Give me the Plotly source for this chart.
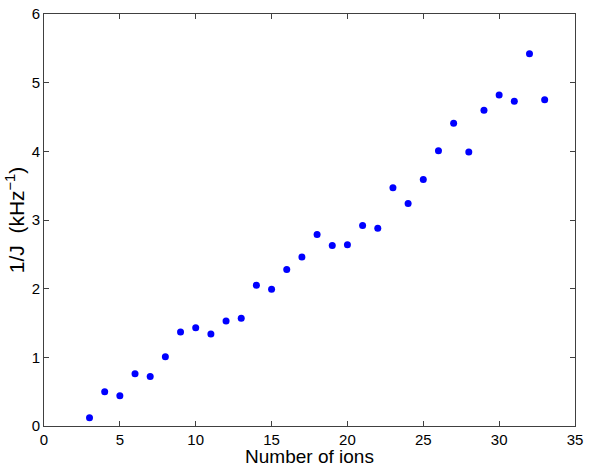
import plotly.graph_objects as go

ions = list(range(3, 34))
inv_j = [0.12, 0.50, 0.44, 0.76, 0.72, 1.01, 1.37, 1.43, 1.34, 1.53, 1.57,
         2.05, 1.99, 2.28, 2.46, 2.79, 2.63, 2.64, 2.92, 2.88, 3.47, 3.24,
         3.59, 4.01, 4.41, 3.99, 4.60, 4.82, 4.73, 5.42, 4.75]

AX = "#404040"
FONT = "Liberation Sans, Arial, sans-serif"

fig = go.Figure(go.Scatter(
    x=ions, y=inv_j, mode="markers",
    marker=dict(color="#0000ff", size=7, line=dict(width=0)),
))

axis_common = dict(
    showgrid=False, zeroline=False, showline=True, linecolor=AX, linewidth=1,
    mirror="ticks", ticks="inside", ticklen=5, tickcolor=AX, tickwidth=1,
    tickfont=dict(family=FONT, size=15, color="#000"),
    ticklabeloverflow="allow", automargin=False,
)

fig.update_layout(
    width=592, height=467,
    margin=dict(l=44, r=17, t=14, b=41),
    paper_bgcolor="white", plot_bgcolor="white",
    showlegend=False,
    font=dict(family=FONT, color="#000"),
    xaxis=dict(range=[0, 35], dtick=5,
               title=dict(text="Number of ions", font=dict(size=19), standoff=8),
               **axis_common),
    yaxis=dict(range=[0, 6], dtick=1,
               title=dict(text="1/J  (kHz<sup>−1</sup>)", font=dict(size=21), standoff=1),
               **axis_common),
)

# drop the default 8px body margin so the figure fills the window
html = fig.to_html(include_plotlyjs=True, full_html=True,
                   config={"displayModeBar": False})
html = html.replace("<body>", '<body style="margin:0">', 1)
with open("out.html", "w", encoding="utf-8") as f:
    f.write(html)
